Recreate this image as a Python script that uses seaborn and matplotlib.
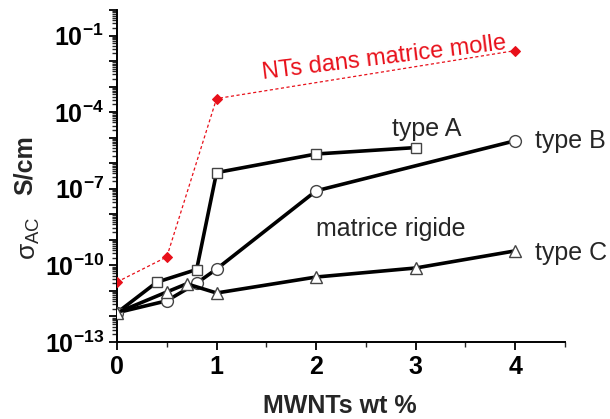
import numpy as np
import pandas as pd
import matplotlib
matplotlib.use("Agg")
import matplotlib.pyplot as plt
import matplotlib.ticker as mticker
import seaborn as sns

# ---- data ----
x_soft = [0, 0.5, 1, 4]
y_soft = [2.24e-11, 2.14e-10, 3.39e-4, 2.57e-2]

x_A = [0, 0.4, 0.8, 1, 2, 3]
y_A = [1.4e-12, 2.2e-11, 6.9e-11, 4.3e-7, 2.3e-6, 4.1e-6]

x_B = [0, 0.5, 0.8, 1, 2, 4]
y_B = [1.4e-12, 4.1e-12, 2.0e-11, 7.2e-11, 8.3e-8, 7.6e-6]

x_C = [0, 0.5, 0.7, 1, 2, 3, 4]
y_C = [1.4e-12, 9.1e-12, 1.9e-11, 8.3e-12, 3.5e-11, 7.9e-11, 3.7e-10]

x_ticks = [0, 1, 2, 3, 4]
x_ticklabels = ["0", "1", "2", "3", "4"]
y_label_exps = [-13, -10, -7, -4, -1]

sns.set_style("ticks")
plt.rcParams["font.family"] = ["Liberation Sans", "DejaVu Sans"]
plt.rcParams["mathtext.fontset"] = "custom"
plt.rcParams["mathtext.rm"] = "Liberation Sans"
plt.rcParams["mathtext.it"] = "Liberation Sans:italic"
plt.rcParams["mathtext.bf"] = "Liberation Sans:bold"

W, H = 610, 419
fig = plt.figure(figsize=(W / 100, H / 100), dpi=100)
ax = fig.add_axes([117 / W, 1 - 342 / H, (565 - 117) / W, (342 - 10) / H])

red = "#e8101a"
soft = pd.DataFrame({"x": x_soft, "y": y_soft})
sns.lineplot(data=soft, x="x", y="y", ax=ax, color=red, lw=0.9,
             linestyle=(0, (2.5, 2)), marker="D", markersize=5.5,
             markerfacecolor=red, markeredgecolor=red, estimator=None,
             sort=False, zorder=3)

common = dict(color="black", lw=2.6, markerfacecolor="white",
              markeredgecolor="#444444", markeredgewidth=1.0,
              estimator=None, sort=False, zorder=4)
sns.lineplot(data=pd.DataFrame({"x": x_A, "y": y_A}), x="x", y="y", ax=ax,
             marker="s", markersize=7, **common)
sns.lineplot(data=pd.DataFrame({"x": x_B, "y": y_B}), x="x", y="y", ax=ax,
             marker="o", markersize=8.5, **common)
sns.lineplot(data=pd.DataFrame({"x": x_C, "y": y_C}), x="x", y="y", ax=ax,
             marker="^", markersize=9, **common)

ax.set_yscale("log")
ax.set_xlim(0, 4.5)
ax.set_ylim(1e-13, 1)

# spines
for s in ["top", "right"]:
    ax.spines[s].set_visible(False)
for s in ["left", "bottom"]:
    ax.spines[s].set_linewidth(1.4)
    ax.spines[s].set_color("black")

# x ticks
ax.xaxis.set_major_locator(mticker.FixedLocator(x_ticks))
ax.set_xticklabels(x_ticklabels)
ax.xaxis.set_minor_locator(mticker.MultipleLocator(0.5))

# y ticks
ax.yaxis.set_major_locator(mticker.FixedLocator([10.0 ** e for e in range(-13, 1)]))
def yfmt(v, pos):
    e = int(round(np.log10(v)))
    if e in y_label_exps:
        return r"$\mathbf{10^{%d}}$" % e
    return ""
ax.yaxis.set_major_formatter(mticker.FuncFormatter(yfmt))
ax.yaxis.set_minor_locator(mticker.LogLocator(base=10, subs=np.arange(2, 10), numticks=100))
ax.yaxis.set_minor_formatter(mticker.NullFormatter())

ax.tick_params(axis="both", which="major", direction="out", length=6, width=1.3,
               labelsize=18, colors="black")
ax.tick_params(axis="both", which="minor", direction="out", length=3.5, width=1.0)
for lab in ax.get_xticklabels():
    lab.set_fontweight("bold")
ax.set_xlabel("")
ax.set_ylabel("")

# axis labels
fig.text(340 / W, 1 - 406 / H, "MWNTs wt %", fontsize=18, fontweight="bold",
         ha="center", va="center")
fig.text(25 / W, 1 - 165 / H, "S/cm", rotation=90, fontsize=18,
         fontweight="bold", ha="center", va="center")
fig.text(30 / W, 1 - 238 / H, r"$\mathrm{\sigma}_{\mathrm{AC}}$", rotation=90,
         fontsize=19, ha="center", va="center")

# annotations
ax.text(2.68, 10 ** -1.90, "NTs dans matrice molle", color=red, fontsize=17,
        rotation=7, ha="center", va="center", rotation_mode="anchor")
ax.text(3.11, 10 ** -4.65, "type A", fontsize=18, ha="center", va="center")
ax.text(4.20, 10 ** -5.12, "type B", fontsize=18, ha="left", va="center")
ax.text(2.0, 10 ** -8.57, "matrice rigide", fontsize=18, ha="left", va="center")
ax.text(4.20, 10 ** -9.51, "type C", fontsize=18, ha="left", va="center")

fig.savefig("out.png", dpi=100)
